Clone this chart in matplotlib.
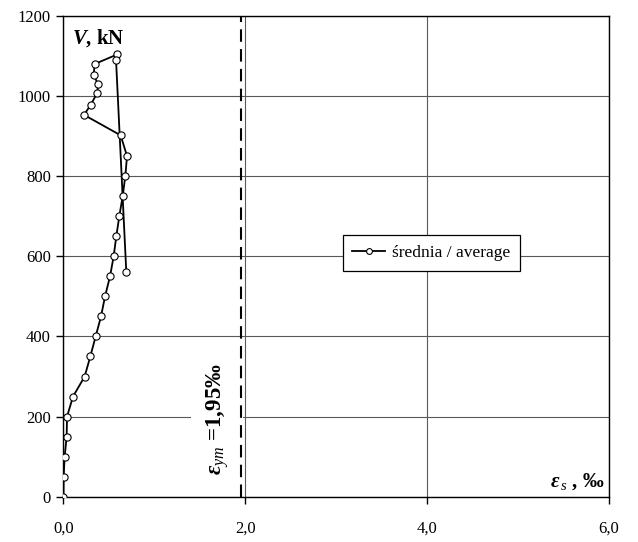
import matplotlib
matplotlib.use("Agg")
import matplotlib.pyplot as plt

plt.rcParams['font.family'] = ['Liberation Serif', 'DejaVu Serif']
plt.rcParams['mathtext.fontset'] = 'custom'
plt.rcParams['mathtext.rm'] = 'Liberation Serif'
plt.rcParams['mathtext.it'] = 'Liberation Serif:italic'
plt.rcParams['mathtext.bf'] = 'Liberation Serif:bold'
plt.rcParams['mathtext.bfit'] = 'Liberation Serif:italic:bold'

# average steel strain (per mille) vs shear force V (kN)
eps = [0.0, 0.002, 0.013, 0.035, 0.039, 0.105, 0.233, 0.295, 0.354, 0.413,
       0.457, 0.512, 0.552, 0.581, 0.614, 0.651, 0.680, 0.699, 0.629, 0.226,
       0.299, 0.372, 0.380, 0.332, 0.343, 0.592, 0.578, 0.691]
V = [0, 50, 100, 150, 200, 250, 300, 350, 400, 450,
     500, 550, 600, 650, 700, 750, 800, 850, 902, 953,
     978, 1008, 1029, 1053, 1080, 1104, 1090, 560]
eps_ym = 1.95

xticks = [0, 2, 4, 6]
xlabels = ['0,0', '2,0', '4,0', '6,0']
yticks = [0, 200, 400, 600, 800, 1000, 1200]

fig = plt.figure(figsize=(6.38, 5.42), dpi=100)
ax = fig.add_axes([0.0995, 0.0836, 0.855, 0.887])

ax.plot(eps, V, color='black', linewidth=1.3, marker='o', markersize=5.2,
        markerfacecolor='white', markeredgecolor='black', markeredgewidth=0.8,
        label='średnia / average', zorder=4)
ax.axvline(eps_ym, color='black', linewidth=1.5, linestyle=(0, (6, 3.5)), zorder=3)

ax.set_xlim(0, 6)
ax.set_ylim(0, 1200)
ax.set_xticks(xticks)
ax.set_xticklabels(xlabels)
ax.set_yticks(yticks)
ax.tick_params(direction='out', length=5, width=1, labelsize=12, pad=12)
ax.tick_params(axis='y', pad=4)
ax.grid(True, color='0.35', linewidth=0.8)
ax.set_axisbelow(True)
for s in ax.spines.values():
    s.set_linewidth(1.0)

ax.text(0.0156, 0.977, r'$\mathbfit{V}$, kN', transform=ax.transAxes,
        fontsize=15, fontweight='bold', ha='left', va='top')
ax.text(0.993, 0.02, r'$\mathbfit{\varepsilon}_{\,\mathit{s}}$ , ‰', transform=ax.transAxes,
        fontsize=15, fontweight='bold', ha='right', va='baseline')
ax.text(1.69, 194, r'$\mathbfit{\varepsilon}_{\mathit{ym}}$ =1,95‰', rotation=90,
        fontsize=16.5, fontweight='bold', ha='center', va='center',
        bbox=dict(boxstyle='square,pad=0.55', facecolor='white', edgecolor='none'), zorder=2)

leg = ax.legend(loc='center', bbox_to_anchor=(0.674, 0.507), fontsize=12.5,
                fancybox=False, framealpha=1, edgecolor='black', handlelength=1.9,
                handletextpad=0.4, borderpad=0.55, borderaxespad=0, markerscale=0.8)
leg.get_frame().set_linewidth(0.9)

plt.savefig('out.png', dpi=100)
